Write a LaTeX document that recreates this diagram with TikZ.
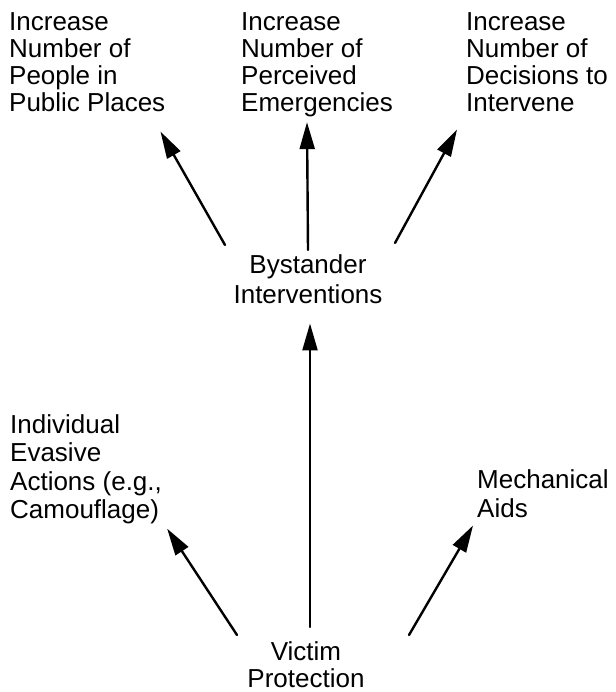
\documentclass[tikz,border=0pt]{standalone}
\usepackage{fontspec}
\setmainfont{Liberation Sans}
\usetikzlibrary{arrows.meta,calc}

\begin{document}
\begin{tikzpicture}[x=1pt,y=-1pt,>={Triangle[length=27pt,width=15pt]},line cap=round,line join=round]
\path[fill=white,use as bounding box] (0,0) rectangle (615,692);
\tikzset{txt/.style={inner sep=0pt,align=left,font=\fontsize{26pt}{#1}\selectfont},ctxt/.style={txt=#1,align=center},arr/.style={draw=black,line width=2.4pt,->}}
% top row
\node[txt=27pt,anchor=north west] (people) at (9,12) {Increase\\Number of\\People in\\Public Places};
\node[txt=27pt,anchor=north west] (emerg) at (241,12) {Increase\\Number of\\Perceived\\Emergencies};
\node[txt=27pt,anchor=north west] (decide) at (466,12) {Increase\\Number of\\Decisions to\\Intervene};
\node[ctxt=30pt,anchor=north] (bystand) at (308,254) {Bystander\\Interventions};
% lower row
\node[txt=28.5pt,anchor=north west] (evasive) at (10,414) {Individual\\Evasive\\Actions (e.g.,\\Camouflage)};
\node[txt=29pt,anchor=north west] (mech) at (477,469) {Mechanical\\Aids};
\node[ctxt=27pt,anchor=north] (victim) at (306,641) {Victim\\Protection};
\draw[arr] ($(bystand.north)+(-83,-9)$) -- ($(people.south east)+(-5,20)$);
\draw[arr] ($(bystand.north)+(0,-4)$) -- ($(emerg.south west)+(66,5.5)$);
\draw[arr] ($(bystand.north)+(87,-11)$) -- ($(decide.south west)+(-9,18)$);
\draw[arr] ($(victim.north)+(-69,-6)$) -- ($(evasive.south east)+(5,4.5)$);
\draw[arr] ($(victim.north)+(4,-14)$) -- ($(bystand.south)+(2,20)$);
\draw[arr] ($(victim.north)+(103,-6)$) -- ($(mech.south west)+(-4,8)$);
\end{tikzpicture}
\end{document}
